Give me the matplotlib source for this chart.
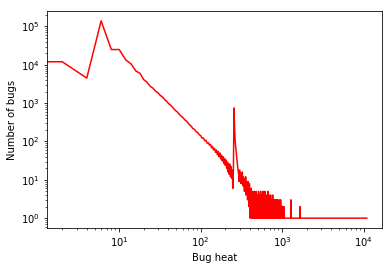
import matplotlib
matplotlib.use("Agg")
import matplotlib.pyplot as plt

# bug heat value -> number of bugs with that heat
heat_head = [0, 2, 4, 6, 8, 10, 12, 14, 16, 18, 20, 22, 24, 26, 28, 30, 32, 34, 36, 38, 40]
bugs_head = [12000, 12000, 4500, 140000, 25000, 25000, 13500, 10500, 6900, 6000, 4100,
             3500, 2750, 2450, 2050, 1850, 1580, 1450, 1240, 1130, 990]

heat_mid = [44, 48, 52, 56, 60, 64, 68, 72, 76, 80, 84, 88, 92, 96, 100, 104, 108, 112,
            116, 120, 124, 128, 132, 136, 140, 144, 148, 152, 156, 160, 164, 168, 172,
            176, 180, 184, 188, 192, 196, 200, 204, 208, 212, 216, 220, 224, 228, 232,
            236, 240, 244, 248]
bugs_mid = [830, 670, 580, 480, 425, 365, 330, 280, 255, 218, 206, 180, 170, 150, 142, 122,
            124, 104, 108, 90, 94, 80, 84, 68, 74, 60, 66, 52, 60, 45, 55, 40, 50,
            35, 44, 31, 40, 27, 36, 24, 33, 20, 29, 16, 27, 14, 25, 12,
            22, 11, 18, 6]

heat_spike = [252, 256, 260, 264, 268, 272, 276, 280, 284, 288]
bugs_spike = [20, 750, 250, 110, 75, 55, 40, 28, 22, 17]

heat_tail = [292, 296, 300, 304, 308, 312, 316, 320, 324, 328, 332, 336, 340, 344,
             348, 352, 356, 360, 364, 368, 372, 376, 380, 384, 388, 392, 396, 400,
             404, 408, 412, 416, 420, 424, 428, 432, 436, 440, 444, 448, 452, 456,
             460, 464, 468, 472, 476, 480, 484, 488, 492, 496, 500, 504, 508, 512,
             516, 520, 524, 528, 532, 536, 540, 544, 548, 552, 556, 560, 564, 568,
             572, 576, 580, 584, 588, 592, 596, 600, 604, 608, 612, 616, 620, 624,
             628, 632, 636, 640, 644, 648, 652, 656, 660, 664, 668, 672, 676, 680,
             684, 688, 692, 696, 700, 704, 708, 712, 716, 720, 724, 728, 732, 736,
             740, 744, 748, 752, 756, 760, 764, 768, 772, 776, 780, 784, 788, 792,
             796, 800, 804, 808, 812, 816, 820, 824, 828, 832, 836, 840, 844, 848,
             852, 856, 860, 864, 868, 872, 876, 880, 884, 888, 892, 896, 900, 904,
             908, 912, 916, 920, 924, 928, 932, 936, 940, 944, 948, 952, 956, 960,
             964, 968, 972, 976, 980, 984, 988, 992, 996, 1000, 1004, 1008, 1012, 1016,
             1020, 1024, 1028, 1032, 1036, 1040, 1044, 1048]
bugs_tail = [14, 9, 18, 11, 15, 8, 13, 10, 16, 7, 12, 7, 11, 5,
             10, 6, 12, 4, 9, 5, 8, 3, 9, 4, 7, 2, 8, 3,
             1, 5, 2, 6, 1, 4, 1, 3, 5, 1, 2, 4, 1, 5,
             2, 1, 4, 1, 3, 5, 1, 2, 1, 4, 1, 3, 1, 5,
             1, 2, 4, 1, 3, 1, 2, 5, 1, 3, 1, 4, 2, 1,
             3, 1, 5, 1, 2, 1, 4, 1, 3, 2, 1, 5, 1, 2,
             1, 3, 1, 4, 1, 2, 3, 1, 2, 1, 5, 1, 3, 1,
             2, 4, 1, 2, 1, 3, 1, 2, 1, 4, 1, 2, 3, 1,
             2, 1, 3, 1, 2, 1, 4, 1, 2, 1, 3, 1, 2, 1,
             3, 1, 2, 1, 2, 3, 1, 2, 1, 3, 1, 2, 1, 2,
             1, 3, 1, 2, 1, 2, 1, 3, 1, 2, 1, 2, 1, 2,
             1, 2, 3, 1, 2, 1, 2, 1, 2, 1, 2, 1, 3, 1,
             2, 1, 2, 1, 2, 1, 1, 2, 1, 2, 1, 2, 1, 2,
             1, 2, 1, 2, 1, 1, 2, 1]

heat_end = [1100, 1160, 1220, 1270, 1276, 1282, 1400, 1520, 1650, 1660, 1670, 2000,
            3000, 5000, 10900]
bugs_end = [1, 1, 1, 1, 3, 1, 1, 1, 1, 2, 1, 1, 1, 1, 1]

heat = heat_head + heat_mid + heat_spike + heat_tail + heat_end
bugs = bugs_head + bugs_mid + bugs_spike + bugs_tail + bugs_end

fig = plt.figure(figsize=(392 / 72, 270 / 72), dpi=72)
ax = fig.add_axes([47 / 392, 1 - 228 / 270, 335 / 392, 217 / 270])
ax.plot(heat, bugs, color="red")
ax.set_xscale("log")
ax.set_yscale("log")
ax.set_xlabel("Bug heat")
ax.set_ylabel("Number of bugs")
fig.savefig("out.png", dpi=72)
